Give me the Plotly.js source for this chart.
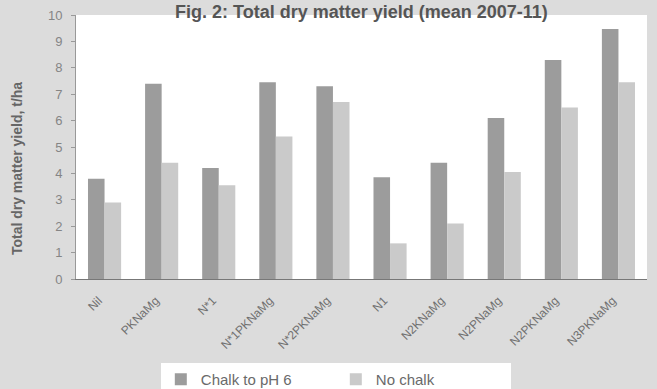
<!DOCTYPE html>
<html>
<head>
<meta charset="utf-8">
<script src="https://cdn.plot.ly/plotly-3.0.1.min.js"></script>
<style>html,body{margin:0;padding:0;background:#dcdcdc;}#chart{width:657px;height:389px;}</style>
</head>
<body>
<div id="chart"></div>
<script>
const categories = ["Nil", "PKNaMg", "N*1", "N*1PKNaMg", "N*2PKNaMg", "N1", "N2KNaMg", "N2PNaMg", "N2PKNaMg", "N3PKNaMg"];
const chalkValues = [3.8, 7.4, 4.2, 7.45, 7.3, 3.85, 4.4, 6.1, 8.3, 9.47];
const noChalkValues = [2.9, 4.4, 3.55, 5.4, 6.7, 1.35, 2.1, 4.05, 6.5, 7.45];
const yTicks = [0, 1, 2, 3, 4, 5, 6, 7, 8, 9, 10];
const seriesNames = ["Chalk to pH 6", "No chalk"];
const titleText = "Fig. 2: Total dry matter yield (mean 2007-11)";
const yTitle = "Total dry matter yield, t/ha";

const traces = [
  {type: "bar", name: seriesNames[0], x: categories, y: chalkValues,
   marker: {color: "#9c9c9c", line: {width: 0}}},
  {type: "bar", name: seriesNames[1], x: categories, y: noChalkValues,
   marker: {color: "#cacaca", line: {width: 0}}}
];

const layout = {
  width: 657, height: 389,
  margin: {l: 76, r: 10, t: 15, b: 110, pad: 0, autoexpand: false},
  paper_bgcolor: "#dcdcdc",
  plot_bgcolor: "#ffffff",
  barmode: "group",
  bargap: 0.42,
  bargroupgap: 0,
  font: {family: "Liberation Sans, Arial, sans-serif", color: "#666666"},
  showlegend: true,
  legend: {orientation: "h", x: 0.455, xanchor: "center", y: -0.318, yanchor: "top",
           bgcolor: "#ffffff", font: {size: 15, color: "#6a6a6a"},
           entrywidth: 130, traceorder: "normal", borderwidth: 0},
  xaxis: {
    tickangle: -45, tickfont: {size: 12, color: "#707070"},
    ticklabelstandoff: 9, ticklabelshift: -6,
    showline: true, linecolor: "#777777", linewidth: 1,
    ticks: "", showgrid: false, zeroline: false, fixedrange: true
  },
  yaxis: {
    range: [0, 10], tickvals: yTicks, ticktext: yTicks.map(String),
    tickfont: {size: 13, color: "#858585"},
    showline: true, linecolor: "#999999", linewidth: 1,
    ticks: "outside", ticklen: 4, tickcolor: "#999999", ticklabelstandoff: 6,
    showgrid: false, zeroline: false
  },
  annotations: [
    {text: "<b>" + titleText + "</b>", xref: "paper", yref: "paper",
     x: 0.5, y: 1.0568, xanchor: "center", yanchor: "top", showarrow: false,
     font: {size: 18, color: "#555555"}},
    {text: "<b>" + yTitle + "</b>", xref: "paper", yref: "paper", textangle: -90,
     x: -0.103, y: 0.417, xanchor: "center", yanchor: "middle", showarrow: false,
     font: {size: 14, color: "#666666"}}
  ]
};

Plotly.newPlot("chart", traces, layout, {displayModeBar: false, staticPlot: true});
</script>
</body>
</html>
